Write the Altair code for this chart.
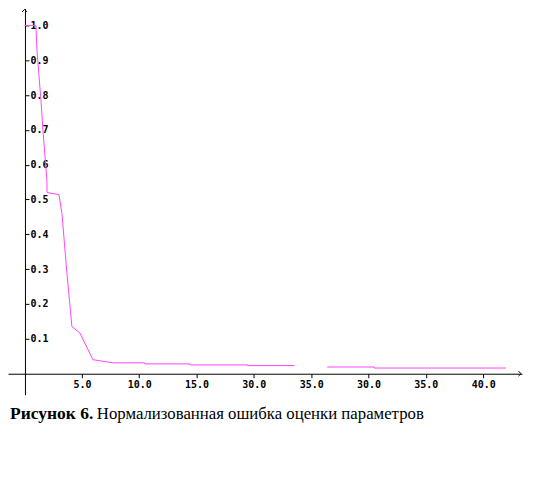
import altair as alt
import pandas as pd

# curve (iteration, normalized error)
x_vals = [0.0, 0.99, 1.08, 1.43, 1.60, 1.95, 1.96, 3.0, 3.26, 3.69, 4.13, 4.82, 5.96, 7.7,
          10.48, 10.48, 14.4, 14.4, 19.45, 19.45, 23.54,
          26.4, 30.5, 30.5, 42.0]
y_vals = [1.0, 1.0, 0.93, 0.785, 0.70, 0.555, 0.52, 0.514, 0.46, 0.29, 0.135, 0.117, 0.04, 0.031,
          0.031, 0.028, 0.028, 0.025, 0.025, 0.023, 0.023,
          0.019, 0.019, 0.016, 0.016]
segment = [1] * 21 + [2] * 4

x_ticks = [5, 10, 15, 20, 25, 30, 35, 40]
x_tick_labels = ["5.0", "10.0", "15.0", "30.0", "35.0", "30.0", "35.0", "40.0"]
y_ticks = [0.1, 0.2, 0.3, 0.4, 0.5, 0.6, 0.7, 0.8, 0.9, 1.0]

caption_bold = "Рисунок 6."
caption_text = "Нормализованная ошибка оценки параметров"

df = pd.DataFrame({"x": x_vals, "y": y_vals, "seg": segment, "i": list(range(len(x_vals)))})

W, H = 515, 387
XDOM = [-1.445, 43.39]
YDOM = [-0.0605, 1.0487]

label_expr = "[" + ",".join("'%s'" % s for s in x_tick_labels) + "][indexof([" + \
    ",".join(str(v) for v in x_ticks) + "], datum.value)]"

xscale = alt.Scale(domain=XDOM, nice=False, zero=False)
yscale = alt.Scale(domain=YDOM, nice=False, zero=False)

line = alt.Chart(df).mark_line(color="#ff44ff", strokeWidth=1, clip=False).encode(
    x=alt.X("x:Q", scale=xscale, axis=alt.Axis(
        orient="bottom", offset=-21, values=x_ticks, labelExpr=label_expr,
        title=None, grid=False, domainColor="black", tickColor="black",
        labelColor="black", labelFont="DejaVu Sans Mono", labelFontWeight="bold",
        labelFontSize=10, tickSize=4, labelPadding=2)),
    y=alt.Y("y:Q", scale=yscale, axis=alt.Axis(
        orient="right", offset=-498, values=y_ticks, format=".1f",
        title=None, grid=False, domainColor="black", tickColor="black",
        labelColor="black", labelFont="DejaVu Sans Mono", labelFontWeight="bold",
        labelFontSize=10, tickSize=4, labelPadding=1)),
    detail="seg:N",
    order="i:Q",
)

arrow_y = alt.Chart(pd.DataFrame({"a": [0]})).mark_point(
    shape="M-1,1L0,0L1,1", filled=False, stroke="black", strokeWidth=1, size=25, opacity=1
).encode(x=alt.X("a:Q", scale=xscale), y=alt.value(1))

arrow_x = alt.Chart(pd.DataFrame({"a": [0]})).mark_point(
    shape="M-1,-1L0,0L-1,1", filled=False, stroke="black", strokeWidth=1, size=25, opacity=1
).encode(x=alt.value(W - 1), y=alt.Y("a:Q", scale=yscale))

cap1 = alt.Chart(pd.DataFrame({"t": [caption_bold]})).mark_text(
    font="Liberation Serif", fontSize=17.5, fontWeight="bold", align="left", baseline="alphabetic",
    color="black"
).encode(text="t:N", x=alt.value(2), y=alt.value(411))

cap2 = alt.Chart(pd.DataFrame({"t": [caption_text]})).mark_text(
    font="Liberation Serif", fontSize=16.8, align="left", baseline="alphabetic", color="black"
).encode(text="t:N", x=alt.value(89), y=alt.value(411))

chart = alt.layer(line, arrow_y, arrow_x, cap1, cap2).properties(
    width=W, height=H,
    autosize=alt.AutoSizeParams(type="none"),
    padding={"left": 0, "top": 0, "right": 4, "bottom": 55},
).configure_view(stroke=None)

chart.save("out.html", embed_options={"renderer": "svg", "actions": False})
